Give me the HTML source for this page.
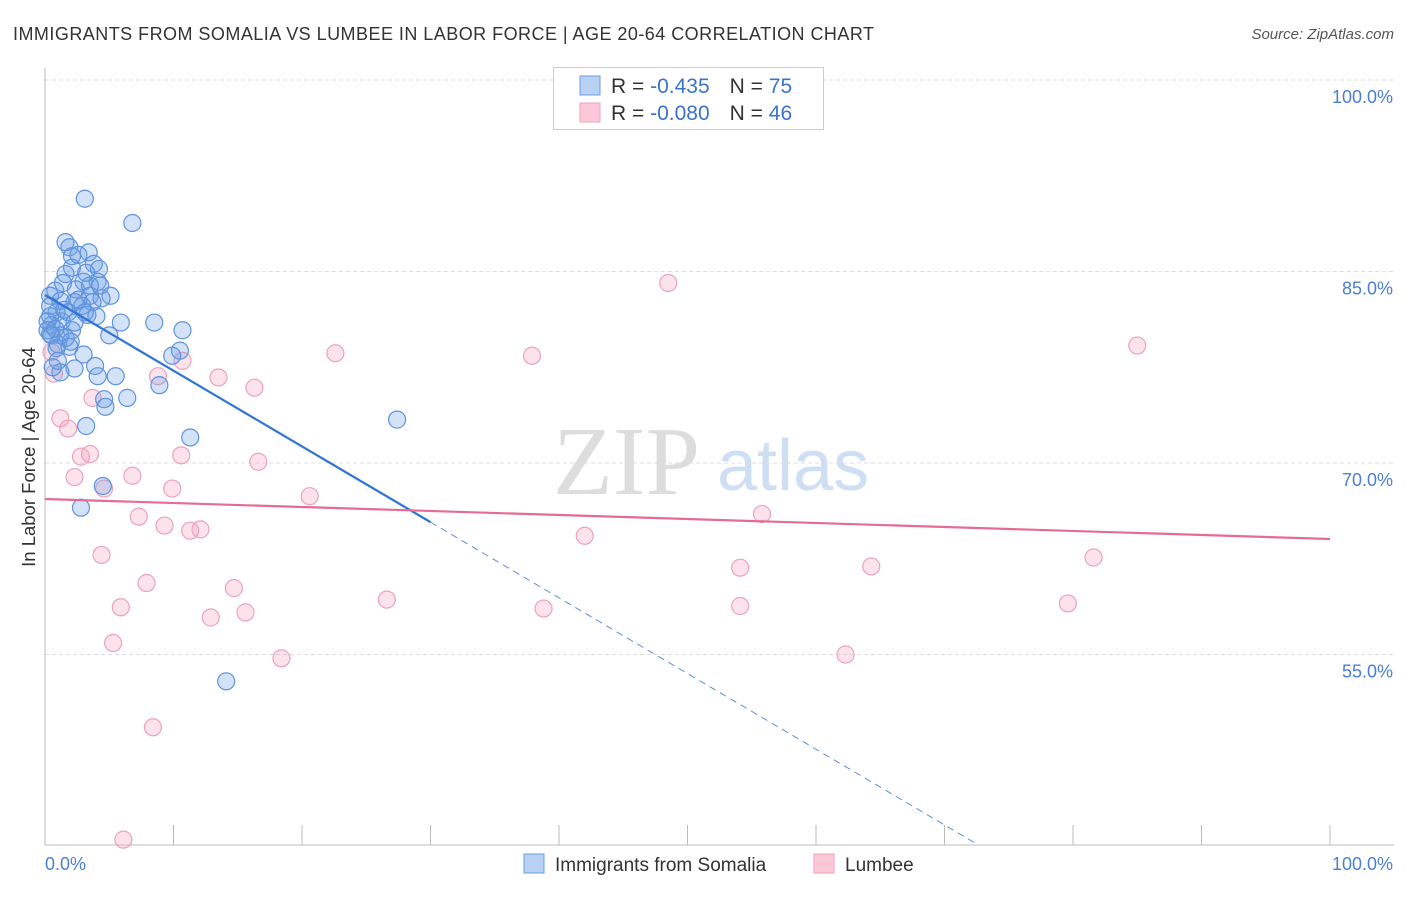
<!DOCTYPE html>
<html><head><meta charset="utf-8"><style>
body{margin:0;background:#fff;font-family:"Liberation Sans",sans-serif}
</style></head><body>
<svg width="1406" height="892" xmlns="http://www.w3.org/2000/svg" font-family="Liberation Sans, sans-serif">
<text x="13" y="40" font-size="18" fill="#333" textLength="861" lengthAdjust="spacing">IMMIGRANTS FROM SOMALIA VS LUMBEE IN LABOR FORCE | AGE 20-64 CORRELATION CHART</text>
<text x="1394" y="39" font-size="15" fill="#555" font-style="italic" text-anchor="end">Source: ZipAtlas.com</text>
<g>
<text x="553" y="494" font-size="98" font-family="Liberation Serif, serif" fill="#ddd">ZIP</text>
<text x="717" y="490" font-size="72" fill="#cfdff3">atlas</text>
</g>
<g id="grid"></g>
<g id="axes"></g>
<g id="marks"></g>
<text x="35" y="457" font-size="18.5" fill="#333" text-anchor="middle" transform="rotate(-90 35 457)">In Labor Force | Age 20-64</text>
<g>
<rect x="553.5" y="67.5" width="270" height="62" fill="#fff" stroke="#ccc"/>
<rect x="580" y="76" width="20" height="19" fill="#b8d2f5" stroke="#6b9ce0"/>
<rect x="580" y="103" width="20" height="19" fill="#fcc8d8" stroke="#eea0b8"/>
<text x="611" y="93" font-size="21" fill="#333">R = <tspan fill="#3a72d0">-0.435</tspan><tspan dx="20">N = </tspan><tspan fill="#3a72d0">75</tspan></text>
<text x="611" y="120" font-size="21" fill="#333">R = <tspan fill="#3a72d0">-0.080</tspan><tspan dx="20">N = </tspan><tspan fill="#3a72d0">46</tspan></text>
</g>
<g>
<rect x="524" y="854" width="20" height="19" fill="#b8d2f5" stroke="#6b9ce0"/>
<text x="555" y="871" font-size="19" fill="#333">Immigrants from Somalia</text>
<rect x="814" y="854" width="20" height="19" fill="#fcc8d8" stroke="#eea0b8"/>
<text x="845" y="871" font-size="19" fill="#333">Lumbee</text>
</g>
</svg>
<script>
const yTicks=[55,70,85,100];
const yTickLabels=["55.0%","70.0%","85.0%","100.0%"];
const xTicks=[0,10,20,30,40,50,60,70,80,90,100];
const xEndLabels=["0.0%","100.0%"];
const somaliaX=[3.1,6.8,1.6,1.9,3.4,2.6,2.1,3.8,4.2,2.1,1.6,3.0,4.1,2.4,3.5,5.1,4.4,0.8,0.4,1.2,2.3,2.9,3.7,0.9,3.3,4.0,0.4,1.3,0.5,2.1,5.9,8.5,10.7,0.4,1.2,1.6,1.0,1.9,0.9,10.5,9.9,3.9,2.3,1.2,4.1,5.5,8.9,4.6,6.4,4.7,3.2,11.3,27.4,4.5,2.8,14.1,0.4,0.2,0.8,1.8,2.6,3.2,1.4,3.5,4.3,0.2,0.5,3.1,2.3,1.0,0.6,2.0,5.0,3.0,1.5];
const somaliaY=[90.7,88.8,87.3,86.9,86.5,86.3,86.2,85.6,85.2,85.3,84.8,84.2,84.2,83.6,83.1,83.1,82.9,83.5,83.1,82.7,82.6,82.3,82.6,81.8,81.6,81.5,81.5,81.1,80.8,80.4,81.0,81.0,80.4,80.1,80.0,79.8,79.3,79.1,79.0,78.8,78.4,77.6,77.4,77.1,76.8,76.8,76.1,75.0,75.1,74.4,72.9,72.0,73.4,68.2,66.5,52.9,82.3,81.1,80.5,81.8,82.8,84.9,84.1,83.9,83.9,80.4,80.0,81.8,81.0,78.0,77.5,79.5,80.0,78.5,82.0];
const lumbeeX=[48.5,85.0,22.6,37.9,10.7,0.5,8.8,13.5,16.3,0.7,3.7,1.2,1.8,3.5,2.8,10.6,16.6,2.3,6.8,9.9,4.6,20.6,7.3,55.8,9.3,11.3,12.1,42.0,4.4,81.6,54.1,64.3,7.9,14.7,26.6,5.9,54.1,38.8,15.6,12.9,79.6,5.3,18.4,62.3,8.4,6.1];
const lumbeeY=[84.1,79.2,78.6,78.4,78.0,78.7,76.8,76.7,75.9,77.0,75.1,73.5,72.7,70.7,70.5,70.6,70.1,68.9,69.0,68.0,68.0,67.4,65.8,66.0,65.1,64.7,64.8,64.3,62.8,62.6,61.8,61.9,60.6,60.2,59.3,58.7,58.8,58.6,58.3,57.9,59.0,55.9,54.7,55.0,49.3,40.5];
const somaliaTrend=[83.16,-0.593];
const somaliaSolidEnd=30;
const somaliaDashEnd=72.4;
const lumbeeTrend=[67.18,-0.0313];

const X0=45,X1=1330,YTOP=80,YBOT=845;
const xs=v=>X0+v*(X1-X0)/100;
const ys=v=>YTOP+(100-v)*12.767;
const NS="http://www.w3.org/2000/svg";
function mk(tag,attrs,parent){const e=document.createElementNS(NS,tag);for(const k in attrs)e.setAttribute(k,attrs[k]);document.getElementById(parent).appendChild(e);return e;}
yTicks.forEach((t,i)=>{
 const l=mk('line',{x1:X0,x2:1394,y1:ys(t),y2:ys(t),stroke:'#ddd','stroke-dasharray':'4,3'},'grid');
 
 
 const tx=mk('text',{x:1393,y:ys(t)+23,'font-size':18,fill:'#4a7fd4','text-anchor':'end'},'axes');
 tx.textContent=yTickLabels[i];
 
 
});
const ya=mk('line',{x1:X0,x2:X0,y1:68,y2:YBOT,stroke:'#bbb'},'axes');


const xa=mk('line',{x1:X0,x2:1394,y1:YBOT,y2:YBOT,stroke:'#bbb'},'axes');


xTicks.forEach(t=>{
 const l=mk('line',{x1:xs(t),x2:xs(t),y1:YBOT,y2:825,stroke:'#bbb'},'axes');
 
 
});
[[0,'start',45],[100,'end',1393]].forEach((d,i)=>{
 const tx=mk('text',{x:d[2],y:870,'font-size':18,fill:'#4a7fd4','text-anchor':d[1]},'axes');
 tx.textContent=xEndLabels[i];
 
 
});
lumbeeX.forEach((x,i)=>{
 const c=mk('circle',{cx:xs(x),cy:ys(lumbeeY[i]),r:8.5,fill:'rgba(243,160,190,0.3)',stroke:'#eba3bb','stroke-width':1.2},'marks');
 
 
});
somaliaX.forEach((x,i)=>{
 const c=mk('circle',{cx:xs(x),cy:ys(somaliaY[i]),r:8.5,fill:'rgba(110,160,230,0.3)',stroke:'#5e93dc','stroke-width':1.2},'marks');
 
 
});
const f=(tr,x)=>tr[0]+tr[1]*x;
const t1=mk('line',{x1:xs(0),y1:ys(f(somaliaTrend,0)),x2:xs(somaliaSolidEnd),y2:ys(f(somaliaTrend,somaliaSolidEnd)),stroke:'#2f74d6','stroke-width':2.2},'marks');


const t2=mk('line',{x1:xs(somaliaSolidEnd),y1:ys(f(somaliaTrend,somaliaSolidEnd)),x2:xs(somaliaDashEnd),y2:ys(f(somaliaTrend,somaliaDashEnd)),stroke:'#5b8fdc','stroke-width':1,'stroke-dasharray':'7,5'},'marks');


const t3=mk('line',{x1:xs(0),y1:ys(f(lumbeeTrend,0)),x2:xs(100),y2:ys(f(lumbeeTrend,100)),stroke:'#e66b94','stroke-width':2.2},'marks');


</script>
</body></html>
